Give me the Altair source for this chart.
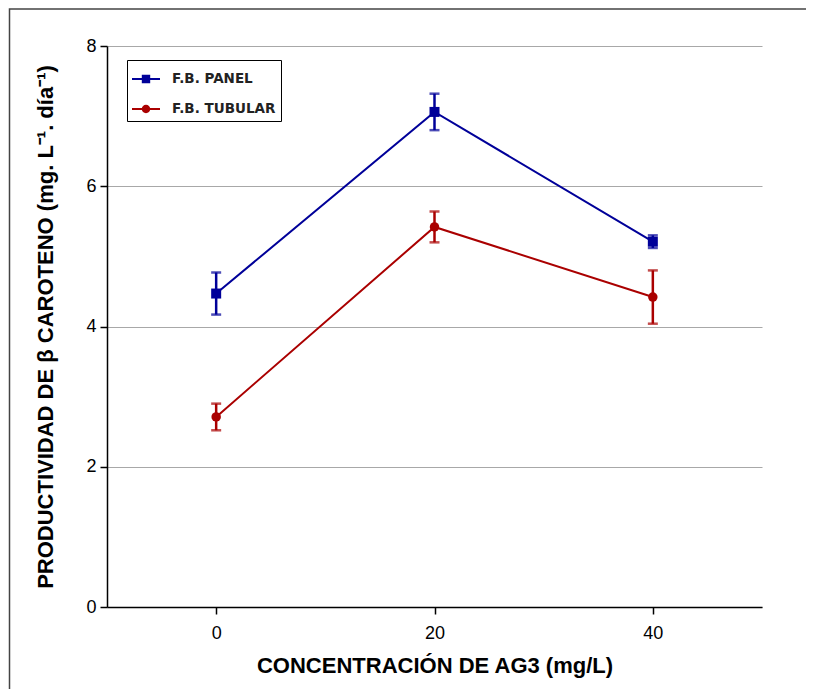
import altair as alt
import pandas as pd

# ---- data ----
conc = [0, 20, 40]
series_names = ["F.B. PANEL", "F.B. TUBULAR"]
panel = [4.47, 7.06, 5.21]
panel_err = [0.30, 0.26, 0.09]
tubular = [2.71, 5.42, 4.42]
tubular_err = [0.19, 0.22, 0.38]
x_ticks = [0, 20, 40]
y_ticks = [0, 2, 4, 6, 8]

colors = ["#000099", "#aa0000"]

rows = []
for s, vals, errs in [(series_names[0], panel, panel_err), (series_names[1], tubular, tubular_err)]:
    for c, v, e in zip(conc, vals, errs):
        rows.append({"conc": c, "serie": s, "val": v, "lo": v - e, "hi": v + e})
df = pd.DataFrame(rows)

W, H = 655, 561
FONT = "Liberation Sans"
NARROW = "Liberation Sans Narrow, Liberation Sans"

xscale = alt.Scale(domain=[-10, 50], nice=False, zero=False)
yscale = alt.Scale(domain=[0, 8], nice=False)
cscale = alt.Scale(domain=series_names, range=colors)

sq_path = "M-1,-0.08H-0.3V-0.3H0.3V-0.08H1V0.08H0.3V0.3H-0.3V0.08H-1Z"
ci_path = "M-1,-0.08H1V0.08H-1Z M0.3,0A0.3,0.3 0 1,1 -0.3,0A0.3,0.3 0 1,1 0.3,0Z"

x_enc = alt.X(
    "conc:Q",
    scale=xscale,
    axis=alt.Axis(
        values=x_ticks,
        format="d",
        title="CONCENTRACIÓN DE AG3 (mg/L)",
        grid=False,
        domainColor="black",
        domainWidth=1.5,
        tickColor="black",
        tickWidth=1.5,
        tickSize=7,
        labelFont=NARROW,
        labelFontSize=18,
        labelColor="black",
        labelPadding=10,
        titleFont=FONT,
        titleFontSize=22,
        titleFontWeight="bold",
        titleColor="black",
        titlePadding=13,
    ),
)
y_enc = alt.Y(
    "val:Q",
    scale=yscale,
    axis=alt.Axis(
        values=y_ticks,
        format="d",
        title="PRODUCTIVIDAD DE β CAROTENO (mg. L⁻¹. día⁻¹)",
        grid=True,
        gridColor="#a8a8a8",
        gridWidth=1,
        domainColor="black",
        domainWidth=1.5,
        tickColor="black",
        tickWidth=1.5,
        tickSize=7,
        labelFont=NARROW,
        labelFontSize=18,
        labelColor="black",
        labelPadding=4,
        titleFont=FONT,
        titleFontSize=22,
        titleFontWeight="bold",
        titleColor="black",
        titlePadding=28,
    ),
)

base = alt.Chart(df)
xs = alt.X("conc:Q", scale=xscale)

# outer frame: a single stroked, unfilled rect whose right and bottom edges fall outside the canvas
frame_df = pd.DataFrame({"k": [0]})
layers = [
    alt.Chart(frame_df).mark_rect(fillOpacity=0, stroke="#444444", strokeWidth=1.5).encode(
        x=alt.value(-97.5), x2=alt.value(W + 70), y=alt.value(-37), y2=alt.value(H + 120)
    )
]

for i, (name, col) in enumerate(zip(series_names, colors)):
    sub = base.transform_filter(alt.datum.serie == name)
    layers.append(sub.mark_line(strokeWidth=2, color=col).encode(x=x_enc, y=y_enc))
    layers.append(
        sub.mark_rule(strokeWidth=2.5, color=col).encode(x=xs, y=alt.Y("lo:Q", scale=yscale), y2="hi:Q")
    )
    layers.append(
        sub.mark_tick(orient="horizontal", size=10, thickness=2.5, color=col).encode(
            x=xs, y=alt.Y("lo:Q", scale=yscale)
        )
    )
    layers.append(
        sub.mark_tick(orient="horizontal", size=10, thickness=2.5, color=col).encode(
            x=xs, y=alt.Y("hi:Q", scale=yscale)
        )
    )
    if i == 0:
        layers.append(
            sub.mark_square(size=100, opacity=1, color=col).encode(x=xs, y=alt.Y("val:Q", scale=yscale))
        )
    else:
        layers.append(
            sub.mark_circle(size=90, opacity=1, color=col).encode(x=xs, y=alt.Y("val:Q", scale=yscale))
        )

legend = alt.Legend(
    title=None,
    orient="none",
    legendX=20,
    legendY=14,
    strokeColor="black",
    fillColor="white",
    padding=5,
    symbolSize=784,
    symbolOpacity=1,
    symbolStrokeWidth=0,
    labelFont="DejaVu Sans",
    labelFontWeight="bold",
    labelFontSize=13.5,
    labelColor="#222222",
    labelOffset=12,
    rowPadding=9,
)
legend_layer = base.mark_point(filled=True, opacity=0).encode(
    x=xs,
    y=alt.Y("val:Q", scale=yscale),
    color=alt.Color("serie:N", scale=cscale, legend=legend),
    shape=alt.Shape("serie:N", scale=alt.Scale(domain=series_names, range=[sq_path, ci_path]), legend=legend),
)
layers.append(legend_layer)

chart = (
    alt.layer(*layers)
    .properties(
        width=W,
        height=H,
        autosize=alt.AutoSizeParams(type="none"),
        padding={"left": 99, "top": 38, "right": 44, "bottom": 82},
        background="white",
    )
    .configure_view(strokeWidth=0)
)

chart.save("out.html", embed_options={"renderer": "svg", "actions": False})
